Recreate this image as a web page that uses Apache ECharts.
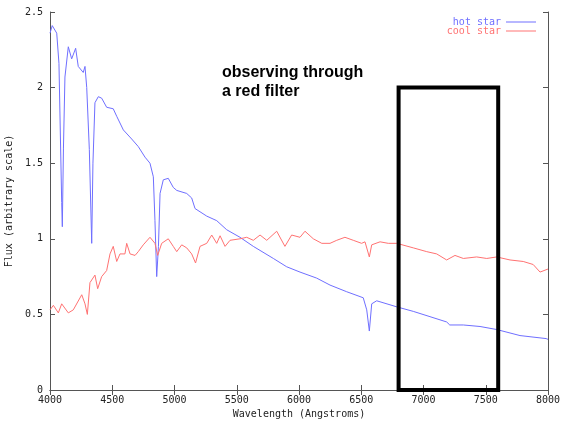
<!DOCTYPE html>
<html>
<head>
<meta charset="utf-8">
<script src="https://cdn.jsdelivr.net/npm/echarts@6/dist/echarts.min.js"></script>
<style>
  html, body { margin: 0; padding: 0; background: #fff; }
  #chart { width: 564px; height: 424px; }
</style>
</head>
<body>
<div id="chart"></div>
<script>
// hot star spectrum (wavelength in Angstroms, flux)
var hotWave = [4000, 4018, 4054, 4072, 4094, 4099, 4108, 4120, 4147, 4174, 4206, 4227, 4267, 4281, 4295, 4316, 4335, 4345, 4361, 4388, 4415, 4455, 4508, 4536, 4589, 4656, 4709, 4763, 4803, 4830, 4843, 4857, 4863, 4871, 4884, 4910, 4950, 4964, 4990, 5018, 5098, 5138, 5165, 5259, 5339, 5419, 5526, 5633, 5794, 5901, 6008, 6142, 6249, 6383, 6516, 6544, 6565, 6584, 6624, 6785, 6918, 7052, 7186, 7211, 7320, 7454, 7588, 7775, 7985, 8000];
var hotFlux = [2.36, 2.41, 2.36, 2.16, 1.24, 1.08, 1.6, 2.07, 2.27, 2.19, 2.26, 2.14, 2.10, 2.14, 2.00, 1.59, 0.97, 1.5, 1.90, 1.94, 1.93, 1.87, 1.86, 1.81, 1.72, 1.66, 1.61, 1.54, 1.50, 1.41, 1.12, 0.75, 0.74, 0.95, 1.30, 1.39, 1.40, 1.39, 1.34, 1.32, 1.30, 1.27, 1.20, 1.15, 1.12, 1.06, 1.01, 0.95, 0.87, 0.815, 0.78, 0.74, 0.694, 0.65, 0.61, 0.53, 0.39, 0.57, 0.59, 0.55, 0.52, 0.485, 0.45, 0.43, 0.43, 0.42, 0.40, 0.36, 0.34, 0.335];

// cool star spectrum
var coolWave = [4000, 4027, 4067, 4094, 4147, 4187, 4255, 4281, 4300, 4321, 4361, 4383, 4415, 4455, 4482, 4508, 4536, 4562, 4602, 4616, 4643, 4683, 4709, 4749, 4803, 4843, 4865, 4897, 4950, 4990, 5018, 5058, 5098, 5138, 5169, 5205, 5259, 5299, 5339, 5366, 5406, 5446, 5526, 5580, 5633, 5687, 5741, 5821, 5887, 5941, 6008, 6048, 6115, 6183, 6249, 6303, 6369, 6436, 6503, 6530, 6565, 6584, 6651, 6717, 6785, 6918, 7026, 7106, 7186, 7253, 7320, 7427, 7508, 7588, 7695, 7801, 7881, 7936, 8000];
var coolFlux = [0.53, 0.56, 0.51, 0.57, 0.51, 0.53, 0.63, 0.57, 0.50, 0.71, 0.76, 0.67, 0.75, 0.79, 0.90, 0.95, 0.85, 0.90, 0.90, 0.97, 0.90, 0.89, 0.915, 0.96, 1.01, 0.97, 0.89, 0.97, 1.00, 0.95, 0.915, 0.96, 0.94, 0.90, 0.84, 0.95, 0.97, 1.025, 0.97, 1.02, 0.95, 0.99, 1.00, 1.01, 0.99, 1.025, 0.99, 1.05, 0.95, 1.025, 1.01, 1.05, 1.00, 0.97, 0.97, 0.99, 1.01, 0.99, 0.97, 0.98, 0.88, 0.96, 0.98, 0.97, 0.97, 0.94, 0.915, 0.90, 0.86, 0.89, 0.87, 0.88, 0.87, 0.88, 0.86, 0.85, 0.83, 0.78, 0.80];

// red filter window: [from, to] Angstroms, height in flux units
var filterRange = [6800, 7600];
var filterTop = 2.0;

var seriesNames = ["hot star", "cool star"];

function pairs(xs, ys) {
  var out = [];
  for (var i = 0; i < xs.length; i++) out.push([xs[i], ys[i]]);
  return out;
}

var boxData = [
  [filterRange[0], 0], [filterRange[0], filterTop],
  [filterRange[1], filterTop], [filterRange[1], 0], [filterRange[0], 0]
];

var mono = "DejaVu Sans Mono";
var hotColor = "#6f6fff";
var coolColor = "#ff7272";
var frame = { show: true, lineStyle: { color: "#555", width: 1 } };
var tick = { show: true, inside: true, length: 5, lineStyle: { color: "#555" } };

var myChart = echarts.init(document.getElementById("chart"));
myChart.setOption({
  animation: false,
  backgroundColor: "#fff",
  grid: { left: 50, right: 16, top: 12, bottom: 34, containLabel: false, outerBoundsMode: "none" },
  legend: {
    data: [
      { name: seriesNames[0], textStyle: { color: hotColor } },
      { name: seriesNames[1], textStyle: { color: coolColor } }
    ],
    orient: "vertical",
    align: "right",
    right: 23,
    top: 12,
    icon: "rect",
    itemWidth: 30,
    itemHeight: 1,
    itemGap: -1,
    textStyle: { fontFamily: mono, fontSize: 10, lineHeight: 10 }
  },
  xAxis: [
    {
      type: "value", min: 4000, max: 8000, interval: 500,
      name: "Wavelength (Angstroms)", nameLocation: "middle", nameGap: 18,
      nameTextStyle: { fontFamily: mono, fontSize: 10, color: "#222" },
      axisLine: frame, axisTick: tick, splitLine: { show: false },
      axisLabel: {
        fontFamily: mono, fontSize: 10, color: "#222", margin: 5,
        formatter: function (v) { return String(v); }
      }
    },
    {
      type: "value", position: "top", min: 4000, max: 8000, interval: 500,
      axisLine: frame, axisTick: tick, splitLine: { show: false },
      axisLabel: { show: false }
    }
  ],
  yAxis: [
    {
      type: "value", min: 0, max: 2.5, interval: 0.5,
      name: "Flux (arbitrary scale)", nameLocation: "middle", nameGap: 33,
      nameTextStyle: { fontFamily: mono, fontSize: 10, color: "#222" },
      axisLine: frame, axisTick: tick, splitLine: { show: false },
      axisLabel: { fontFamily: mono, fontSize: 10, color: "#222", margin: 7 }
    },
    {
      type: "value", position: "right", min: 0, max: 2.5, interval: 0.5,
      axisLine: frame, axisTick: tick, splitLine: { show: false },
      axisLabel: { show: false }
    }
  ],
  graphic: [
    {
      type: "text", left: 222, top: 63, silent: true,
      style: {
        text: "observing through\na red filter",
        font: 'bold 16px "Liberation Sans"',
        lineHeight: 19,
        fill: "#000"
      }
    }
  ],
  series: [
    {
      name: seriesNames[0], type: "line", data: pairs(hotWave, hotFlux),
      showSymbol: false, symbol: "none",
      lineStyle: { color: hotColor, width: 1 }, itemStyle: { color: hotColor }
    },
    {
      name: seriesNames[1], type: "line", data: pairs(coolWave, coolFlux),
      showSymbol: false, symbol: "none",
      lineStyle: { color: coolColor, width: 1 }, itemStyle: { color: coolColor }
    },
    {
      name: "filter", type: "line", data: boxData,
      symbol: "none", silent: true, clip: false,
      lineStyle: { color: "#000", width: 4, join: "miter", cap: "square" }
    }
  ]
});
</script>
</body>
</html>
